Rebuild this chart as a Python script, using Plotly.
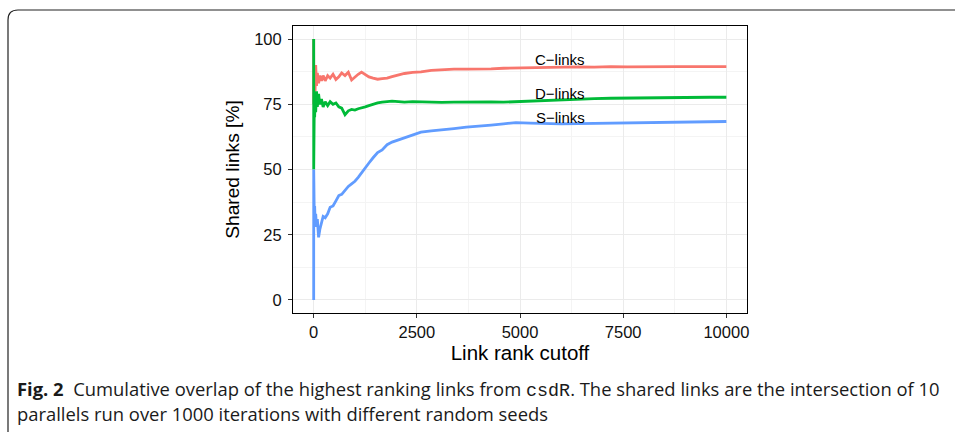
import plotly.graph_objects as go

# ---- data ----
link_rank = [1, 2, 3, 4, 6, 8, 12, 16, 25, 35,
             50, 70, 90, 120, 150, 190, 230, 280, 340, 400,
             470, 540, 610, 680, 760, 840, 920, 1000, 1080, 1160,
             1250, 1340, 1440, 1550, 1660, 1780, 1900, 2050, 2200, 2400,
             2600, 2850, 3100, 3400, 3700, 4000, 4300, 4600, 4900, 5250,
             5600, 6000, 6400, 6800, 7200, 7600, 8000, 8400, 8800, 9200,
             9600, 10000]

c_links = [100, 100, 100, 75, 83, 88, 92, 81, 88, 80,
           90, 82, 87, 83, 86, 84, 86, 84, 86, 85,
           86.5, 84.5, 85.5, 87, 86, 87.3, 84.3, 85.5, 86.5, 87.3,
           86.3, 85.5, 85, 84.6, 84.8, 85, 85.6, 86.3, 86.8, 87.2,
           87.4, 88, 88.3, 88.5, 88.5, 88.5, 88.6, 88.8, 88.9, 89,
           89, 89.1, 89.3, 89.2, 89.4, 89.3, 89.4, 89.3, 89.4, 89.4,
           89.3, 89.4]

d_links = [100, 50, 66.7, 75, 67, 75, 58, 75, 70, 78,
           72, 80, 74, 79, 75, 77, 74, 76, 74.5, 76,
           75, 75.5, 74, 73.5, 71, 72.5, 73, 72.8, 73.3, 73.5,
           74, 74.5, 75, 75.5, 75.8, 76, 76.2, 76, 75.8, 76,
           75.9, 76, 75.7, 75.8, 75.9, 76, 75.9, 75.8, 76, 76.3,
           76.5, 76.8, 77, 77.2, 77.3, 77.4, 77.5, 77.6, 77.6, 77.7,
           77.7, 77.7]

s_links = [0, 50, 33, 25, 33, 37.5, 33, 31, 36, 30,
           33, 28, 31, 24, 27, 30, 32, 31.5, 33, 35.5,
           36, 38, 40, 40.5, 42, 43.5, 44.5, 45.5, 47, 48.8,
           50.5, 52.5, 54.5, 56.5, 57.5, 59.5, 60.5, 61.3, 62.3, 63.3,
           64.3, 64.8, 65.3, 65.7, 66.2, 66.5, 67, 67.5, 68, 67.8,
           67.6, 67.5, 67.6, 67.7, 67.8, 67.9, 68, 68.1, 68.2, 68.3,
           68.3, 68.4]

series_names = ["C\u2212links", "D\u2212links", "S\u2212links"]
series_colors = ["#F8766D", "#00BA38", "#619CFF"]
label_x = [5980, 5980, 5980]
label_y = [92.3, 79.2, 70.0]

x_ticks = [0, 2500, 5000, 7500, 10000]
y_ticks = [0, 25, 50, 75, 100]

# ---- geometry helpers (pixel -> paper) ----
W, H = 955, 432
L, R, T, B = 293, 747, 26, 313


def pxx(px):
    return (px - L) / (R - L)


def pxy(py):
    return (B - py) / (B - T)


fig = go.Figure()
for name, ys, col in zip(series_names, [c_links, d_links, s_links], series_colors):
    fig.add_trace(go.Scatter(x=link_rank, y=ys, mode="lines", name=name,
                             line=dict(color=col, width=2.8), showlegend=False))

for name, lx, ly in zip(series_names, label_x, label_y):
    fig.add_annotation(x=lx, y=ly, xref="x", yref="y", text=name, showarrow=False,
                       font=dict(family="Liberation Sans", size=15, color="black"))

axis_common = dict(showline=True, linecolor="black", linewidth=1, mirror=True,
                   ticks="outside", ticklen=4, tickcolor="#333333", tickwidth=1,
                   showgrid=True, gridcolor="#ebebeb", gridwidth=1.1, zeroline=False,
                   tickfont=dict(family="Liberation Sans", size=16.5, color="#111111"))

fig.update_xaxes(range=[-500, 10500], tickvals=x_ticks, ticktext=[str(v) for v in x_ticks],
                 title=dict(text="Link rank cutoff", font=dict(family="Liberation Sans", size=20.5, color="black"),
                            standoff=5),
                 minor=dict(tickvals=[1250, 3750, 6250, 8750], showgrid=True, gridcolor="#f4f4f4",
                            gridwidth=0.6, ticks=""),
                 **axis_common)
fig.update_yaxes(range=[-5, 105], tickvals=y_ticks, ticktext=[str(v) for v in y_ticks],
                 title=dict(text="Shared links [%]", font=dict(family="Liberation Sans", size=19.2, color="black"),
                            standoff=9),
                 minor=dict(tickvals=[12.5, 37.5, 62.5, 87.5], showgrid=True, gridcolor="#f4f4f4",
                            gridwidth=0.6, ticks=""),
                 ticklabelstandoff=3,
                 **axis_common)

# figure frame (rounded top-left corner)
x0, x1 = pxx(8), pxx(975)
y_top, y_bot = pxy(10), pxy(450)
rx = 10 / (R - L)
ry = 10 / (B - T)
fig.add_shape(type="path", xref="paper", yref="paper",
              path=f"M {x0},{y_bot} L {x0},{y_top - ry} Q {x0},{y_top} {x0 + rx},{y_top} L {x1},{y_top}",
              line=dict(color="#222222", width=1.2))

cap_font = dict(family="Open Sans", size=18.4, color="#1a1a1a")
fig.add_annotation(xref="paper", yref="paper", x=pxx(15), y=pxy(389), xanchor="left", yanchor="middle",
                   showarrow=False, align="left", font=cap_font,
                   text="<b>Fig. 2</b>  Cumulative overlap of the highest ranking links from "
                        "<span style='font-family:Liberation Mono'>csdR</span>. The shared links are the intersection of 10")
fig.add_annotation(xref="paper", yref="paper", x=pxx(15), y=pxy(413), xanchor="left", yanchor="middle",
                   showarrow=False, align="left", font=cap_font,
                   text="parallels run over 1000 iterations with different random seeds")

fig.update_layout(width=W, height=H, margin=dict(l=L, r=W - R, t=T, b=H - B),
                  plot_bgcolor="white", paper_bgcolor="white")

fig.write_html("out.html", config={"displayModeBar": False},
               post_script="document.body.style.margin='0px';")
